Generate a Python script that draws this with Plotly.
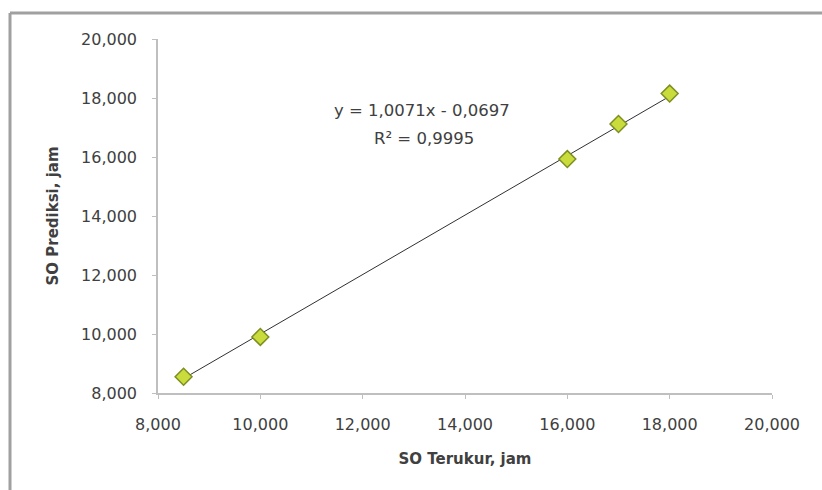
import plotly.graph_objects as go

# Data (hours)
so_terukur = [8.5, 10.0, 16.0, 17.0, 18.0]
so_prediksi = [8.55, 9.9, 15.93, 17.12, 18.15]
tick_vals = [8, 10, 12, 14, 16, 18, 20]
slope = 1.0071
intercept = -0.0697
r2 = 0.9995

trend_x = [min(so_terukur), max(so_terukur)]
trend_y = [slope * v + intercept for v in trend_x]

FONT = "DejaVu Sans"
TXT = "#404040"

fig = go.Figure()
fig.add_trace(go.Scatter(x=trend_x, y=trend_y, mode="lines",
                         line=dict(color="#303030", width=1), showlegend=False,
                         hoverinfo="skip"))
fig.add_trace(go.Scatter(x=so_terukur, y=so_prediksi, mode="markers",
                         marker=dict(symbol="diamond", size=13, color="#c9dc3c",
                                     line=dict(color="#7d8f22", width=1.5)),
                         showlegend=False))

L, R, T, B = 158, 50, 39, 97
W, H = 822, 490
pw, ph = W - L - R, H - T - B

def px(xp):
    return (xp - L) / pw

def py(yp):
    return (H - B - yp) / ph

fig.add_shape(type="line", xref="paper", yref="paper", x0=px(10), x1=px(830),
              y0=py(13), y1=py(13), line=dict(color="#a0a0a0", width=3))
fig.add_shape(type="line", xref="paper", yref="paper", x0=px(10), x1=px(10),
              y0=py(13), y1=py(495), line=dict(color="#a0a0a0", width=3))

fig.add_annotation(xref="x", yref="y", x=13.16, y=17.59,
                   text=f"y = {slope:.4f}x - {abs(intercept):.4f}".replace(".", ","),
                   showarrow=False, font=dict(family=FONT, size=16.5, color=TXT))
fig.add_annotation(xref="x", yref="y", x=13.2, y=16.64,
                   text=f"R² = {r2:.4f}".replace(".", ","),
                   showarrow=False, font=dict(family=FONT, size=16.5, color=TXT))

axis_common = dict(range=[8, 20], tickvals=tick_vals, tickformat=".3f",
                   showgrid=False, zeroline=False, showline=True,
                   linecolor="#bfbfbf", linewidth=1.5, ticks="outside",
                   ticklen=4, tickcolor="#bfbfbf",
                   tickfont=dict(family=FONT, size=16, color=TXT))

fig.update_xaxes(**axis_common, ticklabelstandoff=12,
                 title=dict(text="<b>SO Terukur, jam</b>", standoff=21,
                            font=dict(family=FONT, size=15, color=TXT)))
fig.update_yaxes(**axis_common, ticklabelstandoff=12,
                 title=dict(text="<b>SO Prediksi, jam</b>", standoff=19,
                            font=dict(family=FONT, size=15, color=TXT)))

fig.update_layout(width=W, height=H, margin=dict(l=L, r=R, t=T, b=B, autoexpand=False),
                  plot_bgcolor="white", paper_bgcolor="white",
                  separators=",.")
fig.write_html("out.html")
